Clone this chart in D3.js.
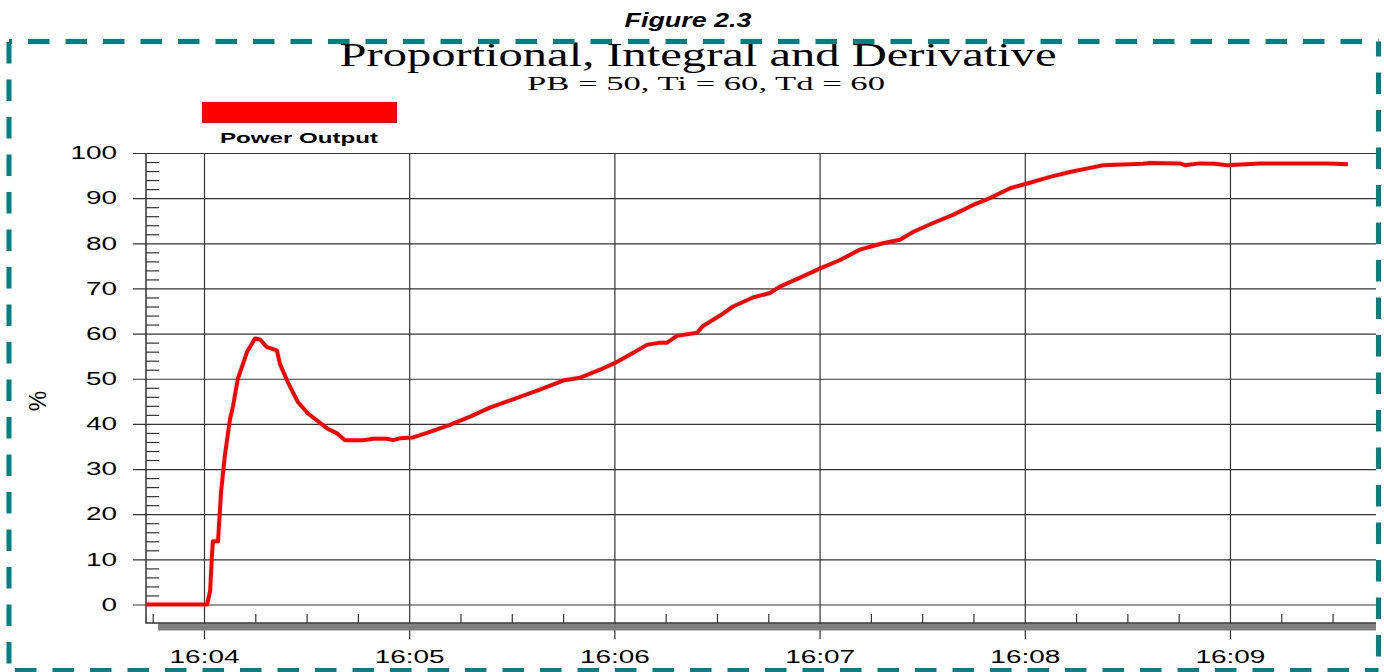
<!DOCTYPE html>
<html>
<head>
<meta charset="utf-8">
<script src="https://cdn.jsdelivr.net/npm/d3@7"></script>
<style>
  body { margin: 0; background: #fff; }
  svg { display: block; }
</style>
</head>
<body>
<div id="vis"></div>
<script>
// seconds after 16:04:00 and the power output (%) read at that moment
var seconds = [-17, 0.9, 1.8, 2.3, 2.6, 4.1, 5.0, 6.1, 7.6, 8.5, 9.9, 11.4, 12.6, 14.9, 16.4,
    18.4, 21.3, 22.2, 24.3, 26.0, 27.5, 30.4, 33.0, 36.0, 38.9, 41.2, 46.5, 49.4, 53.5,
    55.3, 57.3, 61.1, 65.2, 69.0, 71.9, 77.8, 83.6, 92.4, 98.2, 105.0, 109.9, 115.8,
    120.2, 125.4, 129.5, 133.3, 135.4, 138.3, 144.2, 145.9, 150.9, 154.7, 160.5, 165.5,
    168.4, 174.3, 180.7, 186.0, 191.8, 198.5, 203.5, 207.3, 213.2, 219.0, 224.9, 229.8,
    235.7, 241.5, 247.4, 253.2, 259.1, 262.9, 274.6, 276.6, 285.4, 286.8, 291.2, 295.6,
    299.1, 308.8, 328.4, 334.5];
var power = [0, 0, 3, 10.5, 14, 14, 25, 33, 41, 44, 50, 53.3, 56, 58.9, 58.7,
    57, 56.3, 53.3, 49.6, 47, 44.8, 42.3, 40.8, 39, 37.9, 36.4, 36.4, 36.7, 36.7,
    36.4, 36.8, 37, 38, 39, 39.8, 41.6, 43.6, 46, 47.6, 49.6, 50.2, 52,
    53.5, 55.7, 57.5, 58, 58, 59.5, 60.2, 61.7, 64, 66, 68, 69,
    70.4, 72.4, 74.6, 76.3, 78.6, 80, 80.8, 82.5, 84.5, 86.3, 88.5, 90,
    92.2, 93.4, 94.7, 95.8, 96.7, 97.3, 97.6, 97.8, 97.7, 97.3, 97.7, 97.6,
    97.3, 97.7, 97.7, 97.5];
var yTicks = [0, 10, 20, 30, 40, 50, 60, 70, 80, 90, 100];
var figureLabel = 'Figure 2.3';
var title = 'Proportional, Integral and Derivative';
var subtitle = 'PB = 50, Ti = 60, Td = 60';
var seriesName = 'Power Output';
var yLabel = '%';

var width = 1384;
var height = 672;
var plotLeft = 146, plotRight = 1376, plotTop = 153, zeroY = 604.5;
var base = new Date(2000, 0, 1, 16, 4, 0);
var sans = '"Liberation Sans", Arial, sans-serif';
var serif = '"Liberation Serif", "Times New Roman", serif';

function at(s) { return new Date(base.getTime() + s * 1000); }

// old chart fonts were drawn wide, so stretch the text to match
function stretch(sel, k) {
    sel.each(function() {
        var w = this.getComputedTextLength();
        d3.select(this).attr('textLength', w * k).attr('lengthAdjust', 'spacingAndGlyphs');
    });
}

var x = d3.scaleTime()
    .domain([at(-16.96), at(342.7)])
    .range([plotLeft, plotRight]);
var y = d3.scaleLinear()
    .domain([0, 100])
    .range([zeroY, plotTop]);

var svg = d3.select('#vis')
    .append('svg')
    .attr('width', width)
    .attr('height', height);

// titles
svg.append('text')
    .attr('x', 688).attr('y', 27)
    .attr('text-anchor', 'middle')
    .style('font', 'italic bold 20px ' + sans)
    .attr('textLength', 127).attr('lengthAdjust', 'spacingAndGlyphs')
    .text(figureLabel);
svg.append('text')
    .attr('x', 698).attr('y', 66)
    .attr('text-anchor', 'middle')
    .style('font', '33px ' + serif)
    .attr('textLength', 717).attr('lengthAdjust', 'spacingAndGlyphs')
    .text(title);
svg.append('text')
    .attr('x', 706).attr('y', 90)
    .attr('text-anchor', 'middle')
    .style('font', '19px ' + serif)
    .attr('textLength', 358).attr('lengthAdjust', 'spacingAndGlyphs')
    .text(subtitle);

// legend
svg.append('rect')
    .attr('x', 202).attr('y', 102)
    .attr('width', 195).attr('height', 21)
    .attr('fill', '#ff0000');
svg.append('text')
    .attr('x', 299).attr('y', 143)
    .attr('text-anchor', 'middle')
    .style('font', 'bold 15px ' + sans)
    .attr('textLength', 158).attr('lengthAdjust', 'spacingAndGlyphs')
    .text(seriesName);

// y label
svg.append('text')
    .attr('transform', 'translate(46,401) rotate(-90)')
    .attr('text-anchor', 'middle')
    .style('font', '23px ' + sans)
    .text(yLabel);

// horizontal grid + y labels
var yAxis = svg.append('g')
    .attr('transform', 'translate(133,0)')
    .call(d3.axisLeft(y).tickValues(yTicks).tickSize(-(plotRight - 133)).tickPadding(16));
yAxis.select('.domain').remove();
yAxis.selectAll('line').attr('stroke', '#333').attr('stroke-width', 1.2);
yAxis.selectAll('text').style('font', '18px ' + sans).attr('fill', '#000');
stretch(yAxis.selectAll('text'), 1.55);

// minor y ticks
var minorY = d3.range(0, 100, 2).filter(function(v) { return v % 10 !== 0; });
var yMinor = svg.append('g')
    .attr('transform', 'translate(' + plotLeft + ',0)')
    .call(d3.axisRight(y).tickValues(minorY).tickSize(13).tickFormat(''));
yMinor.select('.domain').remove();
yMinor.selectAll('line').attr('stroke', '#333').attr('stroke-width', 1.2);

// vertical grid + time labels
var xAxis = svg.append('g')
    .attr('transform', 'translate(0,639)')
    .call(d3.axisBottom(x).ticks(d3.timeMinute.every(1)).tickFormat(d3.timeFormat('%H:%M'))
        .tickSize(-(639 - plotTop)).tickPadding(11));
xAxis.select('.domain').remove();
xAxis.selectAll('line').attr('stroke', '#333').attr('stroke-width', 1.2);
xAxis.selectAll('text').style('font', '18px ' + sans).attr('fill', '#000');
stretch(xAxis.selectAll('text'), 1.55);

// minor x ticks every 15 s
var minorX = d3.timeSecond.every(15).range(x.domain()[0], x.domain()[1])
    .filter(function(d) { return d.getSeconds() !== 0; });
var xMinor = svg.append('g')
    .attr('transform', 'translate(0,623)')
    .call(d3.axisTop(x).tickValues(minorX).tickSize(9).tickFormat(''));
xMinor.select('.domain').remove();
xMinor.selectAll('line').attr('stroke', '#333').attr('stroke-width', 1.2);

// axis frame with shadow bar
svg.append('rect')
    .attr('x', 158).attr('y', 623.5)
    .attr('width', plotRight - 158).attr('height', 7)
    .attr('fill', '#808080');
svg.append('path')
    .attr('d', 'M' + plotLeft + ',' + plotTop + 'V623H' + plotRight)
    .attr('fill', 'none')
    .attr('stroke', '#333')
    .attr('stroke-width', 1.5);

// data line
var pts = seconds.map(function(s, i) { return { t: at(s), v: power[i] }; });
var line = d3.line()
    .x(function(d) { return x(d.t); })
    .y(function(d) { return y(d.v); });
svg.append('path')
    .datum(pts)
    .attr('d', line)
    .attr('fill', 'none')
    .attr('stroke', '#ff0000')
    .attr('stroke-width', 4)
    .attr('stroke-linejoin', 'round');

// dashed teal border
var border = [
    { x1: 9, y1: 41.5, x2: 1378.5, y2: 41.5, off: 18.5 },
    { x1: 9, y1: 41.5, x2: 9, y2: 670.5, off: 37 },
    { x1: 9, y1: 670.5, x2: 1378.5, y2: 670.5, off: 31.5 },
    { x1: 1378.5, y1: 41.5, x2: 1378.5, y2: 670.5, off: 6.5 }
];
svg.selectAll('.border')
    .data(border)
    .enter()
    .append('line')
    .classed('border', true)
    .attr('x1', function(d) { return d.x1; })
    .attr('y1', function(d) { return d.y1; })
    .attr('x2', function(d) { return d.x2; })
    .attr('y2', function(d) { return d.y2; })
    .attr('stroke', '#008080')
    .attr('stroke-width', 5)
    .attr('stroke-dasharray', '21.5 16')
    .attr('stroke-dashoffset', function(d) { return d.off; });
</script>
</body>
</html>
